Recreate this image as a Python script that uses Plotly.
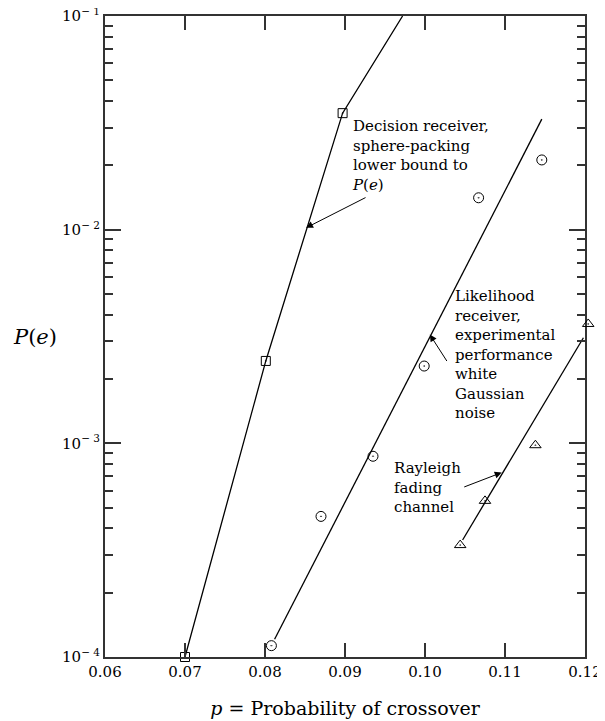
import numpy as np
import plotly.graph_objects as go

# Decision receiver, sphere-packing lower bound (squares + curve)
bound_p = [0.0700, 0.0801, 0.0897]
bound_P = [1.0e-4, 2.43e-3, 3.51e-2]
bound_curve_p = [0.0700, 0.0801, 0.0897, 0.0972]
bound_curve_P = [1.0e-4, 2.43e-3, 3.51e-2, 1.0e-1]

# Likelihood receiver, experimental (circles + fitted line)
lik_p = [0.0808, 0.0870, 0.0935, 0.0999, 0.1067, 0.1146]
lik_P = [1.13e-4, 4.55e-4, 8.7e-4, 2.3e-3, 1.41e-2, 2.12e-2]
lik_line_p = [0.0812, 0.1146]
lik_line_P = [1.21e-4, 3.29e-2]

# Rayleigh fading channel (triangles + fitted line)
ray_p = [0.1044, 0.1075, 0.1138, 0.1204]
ray_P = [3.34e-4, 5.38e-4, 9.8e-4, 3.62e-3]
ray_line_p = [0.1047, 0.1198]
ray_line_P = [3.53e-4, 3.12e-3]

x_ticks = [0.06, 0.07, 0.08, 0.09, 0.10, 0.11, 0.12]
x_ticktext = ["0.06", "0.07", "0.08", "0.09", "0.10", "0.11", "0.12"]
y_ticks = [1e-4, 1e-3, 1e-2, 1e-1]
y_ticktext = ["10<sup>\u2212 4</sup>", "10<sup>\u2212 3</sup>", "10<sup>\u2212 2</sup>", "10<sup>\u2212 1</sup>"]
y_minor = [m * 10.0 ** e for e in (-4, -3, -2) for m in range(2, 10)]

FONT = "DejaVu Serif"
LINE = dict(color="black", width=1.3)

# page offset (browser body margin) and plot frame in page pixels
OFF = 8
W, H = 605 - OFF, 721 - OFF
L, R, T, B = 105 - OFF, 585 - OFF, 16 - OFF, 657 - OFF
EXTRA = 10  # extra pixels to the right so a marker just past 0.12 stays visible
XMIN, XMAX = 0.06, 0.12
dom_end = (R - L) / (R - L + EXTRA)
x2max = XMIN + (XMAX - XMIN) * (R - L + EXTRA) / (R - L)

fig = go.Figure()
fig.add_trace(go.Scatter(x=bound_curve_p, y=bound_curve_P, mode="lines", line=LINE))
fig.add_trace(go.Scatter(x=lik_line_p, y=lik_line_P, mode="lines", line=LINE))
fig.add_trace(go.Scatter(x=ray_line_p, y=ray_line_P, mode="lines", line=LINE))

mk = dict(color="black", size=9, line=dict(color="black", width=1))
fig.add_trace(go.Scatter(x=bound_p, y=bound_P, mode="markers", cliponaxis=False,
                         marker=dict(mk, symbol="square-open-dot", size=9)))
fig.add_trace(go.Scatter(x=lik_p, y=lik_P, mode="markers", cliponaxis=False,
                         marker=dict(mk, symbol="circle-open-dot", size=10)))
fig.add_trace(go.Scatter(x=ray_p, y=ray_P, mode="markers", cliponaxis=False,
                         xaxis="x2", yaxis="y",
                         marker=dict(mk, symbol="triangle-up-open-dot", size=10)))

# annotation texts (positions given in page pixels)
notes = [
    ("Decision receiver,<br>sphere-packing<br>lower bound to<br><i>P</i>(<i>e</i>)", 350, 115),
    ("Likelihood<br>receiver,<br>experimental<br>performance<br>white<br>Gaussian<br>noise", 453, 285),
    ("Rayleigh<br>fading<br>channel", 392, 457),
]
PW = R - L + EXTRA
for txt, px, py in notes:
    fig.add_annotation(text=txt, xref="paper", yref="paper",
                       x=(px - OFF - L) / PW, y=(B - (py - OFF)) / (B - T),
                       xanchor="left", yanchor="top", align="left", showarrow=False,
                       font=dict(family=FONT, size=15, color="black"))

# arrows: head in data coords, tail offset in pixels
arrow_head_p = [0.08513, 0.1006, 0.10959]
arrow_head_P = [1.02e-2, 3.23e-3, 7.3e-4]
arrow_dx = [61, 18, -39]
arrow_dy = [-31, 28, 15]
for hp, hP, dx, dy in zip(arrow_head_p, arrow_head_P, arrow_dx, arrow_dy):
    fig.add_annotation(x=hp, y=np.log10(hP), xref="x", yref="y", text="",
                       showarrow=True, arrowhead=2, arrowsize=1.4, arrowwidth=1,
                       arrowcolor="black", ax=dx, ay=dy, standoff=0)

# y-axis label
fig.add_annotation(text="<i>P</i>(<i>e</i>)", xref="paper", yref="paper",
                   x=(35 - OFF - L) / PW, y=(B - (337 - OFF)) / (B - T),
                   xanchor="center", yanchor="middle", showarrow=False,
                   font=dict(family=FONT, size=21, color="black"))

fig.update_layout(
    width=W, height=H,
    margin=dict(l=L, r=W - R - EXTRA, t=T, b=H - B, autoexpand=False),
    plot_bgcolor="rgba(0,0,0,0)", paper_bgcolor="white",
    showlegend=False,
    font=dict(family=FONT, size=15, color="black"),
    xaxis=dict(
        domain=[0, dom_end],
        range=[XMIN, XMAX], tickvals=x_ticks, ticktext=x_ticktext,
        ticks="inside", ticklen=14, tickwidth=1.5, tickcolor="#333",
        showline=True, linecolor="#333", linewidth=2, mirror="ticks",
        showgrid=False, zeroline=False, automargin=False,
        tickfont=dict(family=FONT, size=15, color="black"),
        title=dict(text="<i>p</i> = Probability of crossover",
                   font=dict(family=FONT, size=19, color="black"), standoff=22),
    ),
    xaxis2=dict(domain=[0, 1], range=[XMIN, x2max], visible=False, anchor="y",
                showgrid=False, zeroline=False),
    yaxis=dict(
        type="log", range=[-4, -1], tickvals=y_ticks, ticktext=y_ticktext,
        ticks="inside", ticklen=16, tickwidth=1.5, tickcolor="#333",
        minor=dict(tickvals=y_minor, ticks="inside", ticklen=8, tickwidth=1.5, tickcolor="#333"),
        showline=True, linecolor="#333", linewidth=2, mirror="ticks",
        showgrid=False, zeroline=False, automargin=False, ticklabeloverflow="allow",
        tickfont=dict(family=FONT, size=15, color="black"),
    ),
)

fig.write_html("out.html")
